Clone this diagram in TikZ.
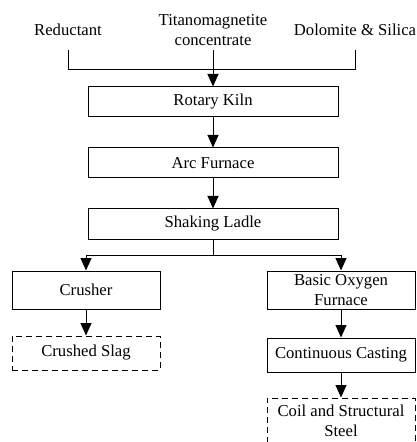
\documentclass[tikz,border=0pt]{standalone}
\usepackage{fontspec}
\setmainfont{Liberation Serif}
\usetikzlibrary{arrows.meta, positioning}
\tikzset{
  cajaProceso/.style={
    draw, line width=0.6pt,
    minimum width=150pt, minimum height=18pt,
    inner sep=0.5pt, align=center, font=\normalsize
  },
  cajaLado/.style={cajaProceso, minimum width=88.8pt, minimum height=22.8pt},
  cajaProducto/.style={cajaLado, dash pattern=on 3.6pt off 2.4pt},
  entrada/.style={align=center, inner sep=2.5pt},
  flecha/.style={-{Triangle[length=7.5pt, width=6.6pt]}, line width=0.6pt},
  linea/.style={line width=0.6pt},
}

\begin{document}
\begin{tikzpicture}[x=0.6pt, y=-0.6pt]
    \useasboundingbox (0,0) rectangle (416,442);
    % materias primas
    \node[entrada] (tmc) at (213,30) {Titanomagnetite\\concentrate};
    \node[entrada] (red) at (68,30) {Reductant};
    \node[entrada] (dol) at (355,30) {Dolomite \& Silica};
    \coordinate (junta) at (213,70);
    \draw[linea] (red |- tmc.south) -- (red |- junta) -- (dol |- junta) -- (dol |- tmc.south);

    % linea principal
    \node[cajaProceso] (rk) at (213,102) {Rotary Kiln};
    \node[cajaProceso, below=18pt of rk] (af) {Arc Furnace};
    \node[cajaProceso, below=18pt of af] (sl) {Shaking Ladle};
    \draw[flecha] (tmc) -- (rk);
    \draw[flecha] (rk) -- (af);
    \draw[flecha] (af) -- (sl);

    % escoria y acero
    \node[cajaLado] (cr) at (86,290) {Crusher};
    \node[cajaLado] (bof) at (341,290) {Basic Oxygen\\Furnace};
    \node[cajaProducto, minimum height=20.4pt, below=15.6pt of cr] (cs) {Crushed Slag};
    \node[cajaLado, minimum height=20.4pt, below=16.8pt of bof] (cc) {Continuous Casting};
    \node[cajaProducto, minimum height=27pt, below=15pt of cc] (coil) {Coil and Structural\\Steel};
    \coordinate (rama) at (213,255);
    \draw[flecha] (sl.south) -- (rama) -| (cr.north);
    \draw[flecha] (rama) -| (bof.north);
    \draw[flecha] (cr) -- (cs);
    \draw[flecha] (bof) -- (cc);
    \draw[flecha] (cc) -- (coil);
\end{tikzpicture}
\end{document}
